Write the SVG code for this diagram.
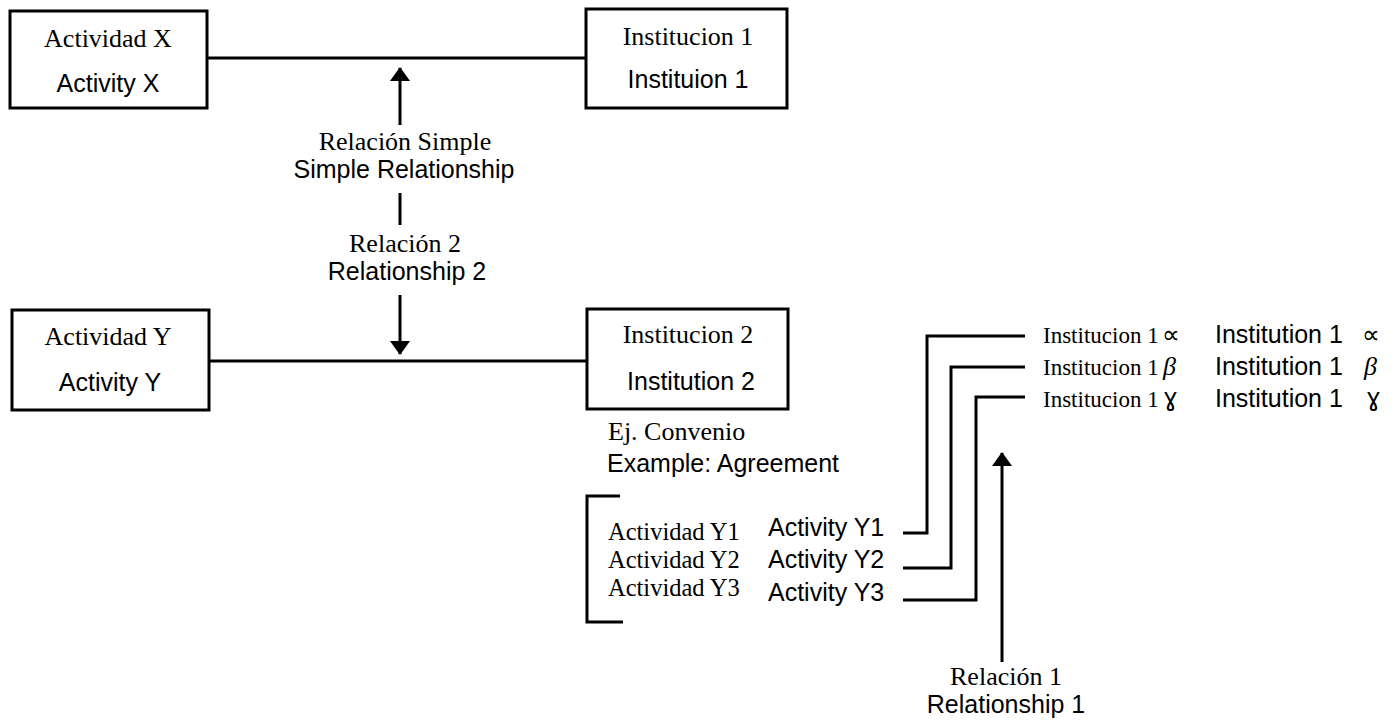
<svg xmlns="http://www.w3.org/2000/svg" width="1398" height="721" viewBox="0 0 1398 721">
<style>
.box{fill:#fff;stroke:#000;stroke-width:3}
.ln{fill:none;stroke:#000;stroke-width:3}
.sr{font-family:"Liberation Serif","DejaVu Serif",serif;font-size:26px;fill:#000}
.ss{font-family:"Liberation Sans","DejaVu Sans",sans-serif;font-size:25px;fill:#000}
.m{text-anchor:middle}
.sm{font-size:23px}
.sy{font-family:"DejaVu Sans",sans-serif;font-size:25px;fill:#000}
.ls{font-size:24.5px}
</style>
<defs>
<marker id="ah" markerWidth="14" markerHeight="20" refX="13" refY="10" orient="auto" markerUnits="userSpaceOnUse">
<path d="M0,0 L14,10 L0,20 Z" fill="#000"/>
</marker>
</defs>
<rect width="1398" height="721" fill="#fff"/>
<g id="connectors">
<line class="ln" x1="207" y1="58" x2="586" y2="58"/>
<line class="ln" x1="209" y1="361" x2="587" y2="361"/>
<line class="ln" x1="400" y1="125" x2="400" y2="68" marker-end="url(#ah)"/>
<line class="ln" x1="400" y1="193" x2="400" y2="225"/>
<line class="ln" x1="400" y1="295" x2="400" y2="354" marker-end="url(#ah)"/>
<polyline class="ln" points="903,533 927,533 927,336 1025,336"/>
<polyline class="ln" points="903,568 951,568 951,367 1025,367"/>
<polyline class="ln" points="903,600 976,600 976,397 1025,397"/>
<line class="ln" x1="1002" y1="662" x2="1002" y2="453" marker-end="url(#ah)"/>
<polyline class="ln" points="620,496 587,496 587,622 623,622"/>
</g>
<g id="actividad-x">
<rect class="box" x="10" y="11" width="197" height="97"/>
<text class="sr m" x="108" y="47">Actividad X</text>
<text class="ss m" x="108" y="92">Activity X</text>
</g>
<g id="institucion-1">
<rect class="box" x="586" y="9" width="201" height="99"/>
<text class="sr m" x="688" y="45">Institucion 1</text>
<text class="ss m" x="688" y="88">Instituion 1</text>
</g>
<g id="actividad-y">
<rect class="box" x="12" y="310" width="197" height="100"/>
<text class="sr m" x="108" y="345">Actividad Y</text>
<text class="ss m" x="110" y="391">Activity Y</text>
</g>
<g id="institucion-2">
<rect class="box" x="587" y="309" width="201" height="100"/>
<text class="sr m" x="688" y="343">Institucion 2</text>
<text class="ss m" x="691" y="390">Institution 2</text>
</g>
<g id="relacion-simple">
<text class="sr m" x="405" y="150">Relación Simple</text>
<text class="ss m" x="404" y="178">Simple Relationship</text>
</g>
<g id="relacion-2">
<text class="sr m" x="405" y="252">Relación 2</text>
<text class="ss m" x="407" y="280">Relationship 2</text>
</g>
<g id="convenio">
<text class="sr" x="608" y="440">Ej. Convenio</text>
<text class="ss" x="607" y="472">Example: Agreement</text>
</g>
<g id="actividades-y">
<text class="sr ls" x="608" y="540">Actividad Y1</text>
<text class="sr ls" x="608" y="568">Actividad Y2</text>
<text class="sr ls" x="608" y="596">Actividad Y3</text>
<text class="ss" x="768" y="536">Activity Y1</text>
<text class="ss" x="768" y="568">Activity Y2</text>
<text class="ss" x="768" y="601">Activity Y3</text>
</g>
<g id="instituciones">
<text class="sr sm" x="1043" y="343">Institucion 1</text>
<text class="sy" x="1162" y="343">∝</text>
<text class="ss" x="1215" y="343" font-size="24">Institution 1</text>
<text class="sy" x="1362" y="343">∝</text>
<text class="sr sm" x="1043" y="375">Institucion 1</text>
<text class="sr" x="1163" y="375" font-style="italic" font-size="25">β</text>
<text class="ss" x="1215" y="375" font-size="24">Institution 1</text>
<text class="sr" x="1364" y="375" font-style="italic" font-size="25">β</text>
<text class="sr sm" x="1043" y="407">Institucion 1</text>
<text class="sy" x="1163" y="406">ɣ</text>
<text class="ss" x="1215" y="407" font-size="24">Institution 1</text>
<text class="sy" x="1366" y="406">ɣ</text>
</g>
<g id="relacion-1">
<text class="sr m" x="1006" y="685">Relación 1</text>
<text class="ss m" x="1006" y="713">Relationship 1</text>
</g>
</svg>
